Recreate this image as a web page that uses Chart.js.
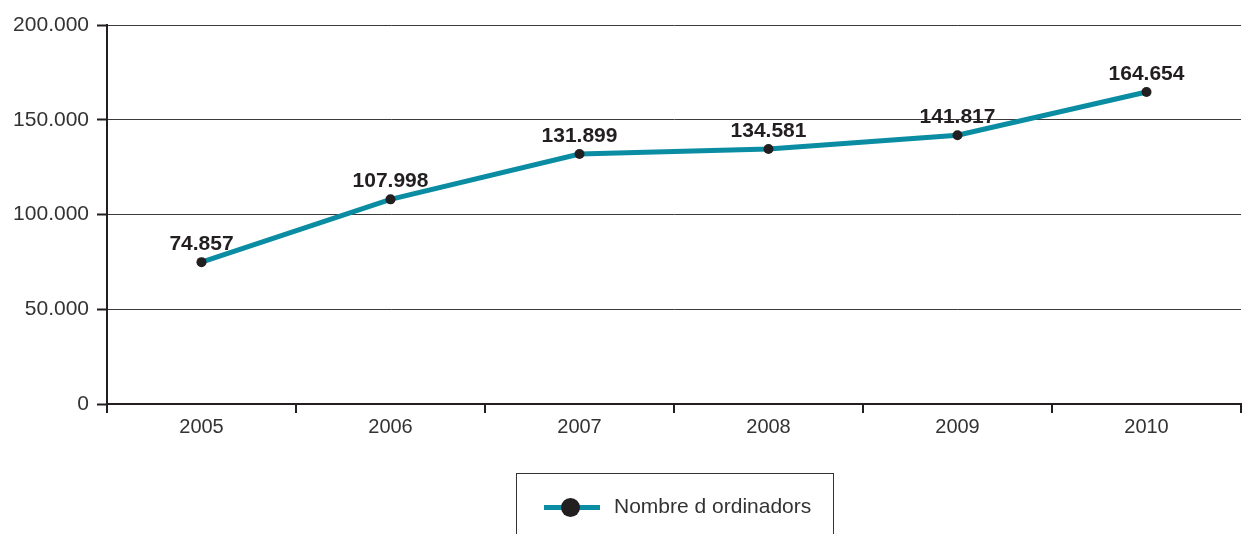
<!DOCTYPE html>
<html>
<head>
<meta charset="utf-8">
<script src="https://cdn.jsdelivr.net/npm/chart.js@4/dist/chart.umd.min.js"></script>
<style>
  html, body { margin: 0; padding: 0; background: #fff; }
  #wrap { position: relative; width: 1242px; height: 534px; }
  #legend {
    position: absolute; left: 516px; top: 473px; width: 318px; height: 70px;
    border: 1px solid #333; border-bottom: none; box-sizing: border-box;
    font-family: "Liberation Sans", Arial, sans-serif; font-size: 21px; color: #333;
  }
  #legend .line { position: absolute; left: 27px; top: 31px; width: 56px; height: 5px; background: #0a8ca3; }
  #legend .dot { position: absolute; left: 44px; top: 24px; width: 19px; height: 19px; border-radius: 50%; background: #231f20; }
  #legend .txt { position: absolute; left: 97px; top: 20px; white-space: nowrap; }
</style>
</head>
<body>
<div id="wrap">
  <canvas id="chart" width="1242" height="534"></canvas>
  <div id="legend"><span class="line"></span><span class="dot"></span><span class="txt">Nombre d ordinadors</span></div>
</div>
<script>
const years = ["2005", "2006", "2007", "2008", "2009", "2010"];
const ordinadors = [74857, 107998, 131899, 134581, 141817, 164654];
const yTicks = [0, 50000, 100000, 150000, 200000];

function fmt(v) {
  return String(v).replace(/\B(?=(\d{3})+(?!\d))/g, ".");
}

// etiquetes de valor damunt de cada punt
const valueLabels = {
  id: "valueLabels",
  afterDatasetsDraw(chart) {
    const ctx = chart.ctx;
    const meta = chart.getDatasetMeta(0);
    ctx.save();
    ctx.font = "bold 21px 'Liberation Sans', Arial, sans-serif";
    ctx.fillStyle = "#231f20";
    ctx.textAlign = "center";
    ctx.textBaseline = "alphabetic";
    meta.data.forEach((pt, i) => {
      ctx.fillText(fmt(ordinadors[i]), pt.x, pt.y - 12);
    });
    ctx.restore();
  }
};

new Chart(document.getElementById("chart"), {
  type: "line",
  data: {
    labels: years,
    datasets: [{
      label: "Nombre d ordinadors",
      data: ordinadors,
      borderColor: "#0a8ca3",
      borderWidth: 5,
      pointRadius: 5,
      pointBackgroundColor: "#231f20",
      pointBorderColor: "#231f20",
      pointBorderWidth: 0,
      tension: 0,
      fill: false
    }]
  },
  options: {
    responsive: false,
    animation: false,
    layout: { autoPadding: false, padding: { top: 25, right: 1, left: 0, bottom: 0 } },
    plugins: { legend: { display: false }, tooltip: { enabled: false } },
    scales: {
      x: {
        offset: true,
        grid: { offset: true, drawOnChartArea: false, color: "#231f20", lineWidth: 2, tickLength: 9 },
        border: { color: "#231f20", width: 2 },
        ticks: {
          color: "#333",
          padding: 2,
          font: { family: "'Liberation Sans', Arial, sans-serif", size: 20 }
        },
        afterFit(scale) { scale.height = 130; }
      },
      y: {
        min: 0,
        max: 200000,
        afterBuildTicks(scale) { scale.ticks = yTicks.map(v => ({ value: v })); },
        grid: { color: "#3a3a3a", lineWidth: 1, tickLength: 10, tickColor: "#231f20", tickWidth: 2 },
        border: { color: "#231f20", width: 2 },
        ticks: {
          color: "#333",
          padding: 8,
          font: { family: "'Liberation Sans', Arial, sans-serif", size: 21 },
          callback: v => fmt(v)
        },
        afterFit(scale) { scale.width = 107; }
      }
    }
  },
  plugins: [valueLabels]
});
</script>
</body>
</html>
